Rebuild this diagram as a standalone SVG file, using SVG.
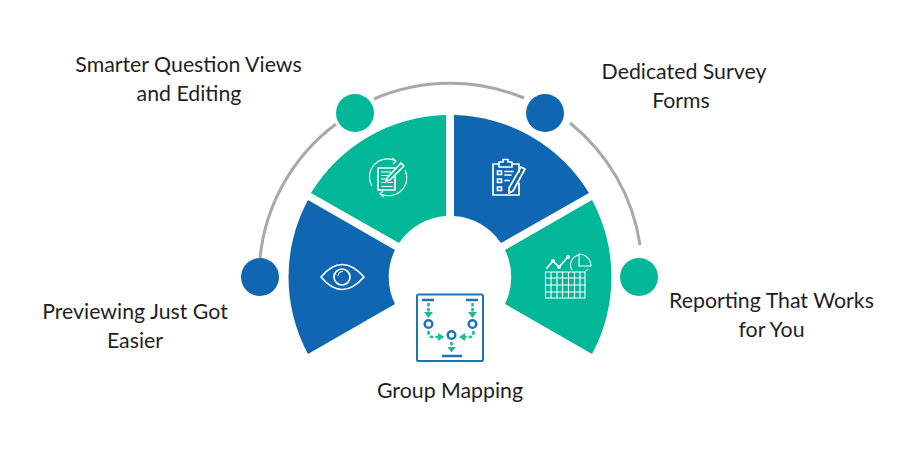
<svg xmlns="http://www.w3.org/2000/svg" width="900" height="450" viewBox="0 0 900 450">
<style>
.b{fill:#0f67b1}.g{fill:#00b898}
.t{font-family:"Lato","Open Sans",sans-serif;font-size:21.300px;fill:#1f1f1f;text-anchor:middle}
.a{fill:none;stroke:#a9a9a9;stroke-width:3}
.w{fill:none;stroke:#fff;stroke-width:1.7;stroke-linejoin:round;stroke-linecap:round}
.w1{fill:none;stroke:#fff;stroke-width:1.1}
.mb{fill:none;stroke:#1f74b8;stroke-width:2.5}
.mg{fill:none;stroke:#1dbb98;stroke-width:2.6}
.mf{fill:#1dbb98}
</style>
<rect width="900" height="450" fill="#fff"/>
<g id="connectors">
<path class="a" d="M260 258A191 191 0 0 1 336 124"/>
<path class="a" d="M374 99A193 193 0 0 1 524 98"/>
<path class="a" d="M570 123A192 192 0 0 1 640 245"/>
</g>
<g id="node-preview">
<path class="b" d="M308 200L395 250A61 61 0 0 0 395 304L308 354A162 162 0 0 1 308 200Z"/>
<circle class="b" cx="260" cy="277" r="19"/>
<path class="w" d="M321 277Q342 252 364 277Q342 302 321 277Z"/>
<circle class="w" cx="342" cy="277" r="8"/>
<path class="w1" d="M338 276A4.500 4.500 0 0 1 343 271.500"/>
<text class="t"><tspan x="135" y="319">Previewing Just Got</tspan><tspan x="135" y="348">Easier</tspan></text>
</g>
<g id="node-question">
<path class="g" d="M311 193L399 243A61 61 0 0 1 446 216L446 115A162 162 0 0 0 311 193Z"/>
<circle class="g" cx="355" cy="113" r="19"/>
<path class="w" d="M378 168H395V190H378Z"/>
<path class="w1" d="M381 172H391M381 175.500H389M381 179H386M381 182.500H393M381 186.500H393"/>
<path class="g" d="M386 180L401 162L405 165L391 181L386 183Z"/>
<path class="w" d="M387 178L401 163L404 166L390 180L386 181Z"/>
<path class="w1" d="M396 161A18 18 0 0 0 372 186M405 170A18 18 0 0 1 381 194"/>
<path class="w1" d="M392 158L396 161L393 164M383 191L380 194L384 197"/>
<text class="t"><tspan x="188.500" y="72">Smarter Question Views</tspan><tspan x="189" y="101">and Editing</tspan></text>
</g>
<g id="node-survey">
<path class="b" d="M454 115L454 216A61 61 0 0 1 501 243L589 193A162 162 0 0 0 454 115Z"/>
<circle class="b" cx="545" cy="113" r="19"/>
<path class="w" d="M498 164H493V195H519V183M513 164H519V172"/>
<path class="w" d="M499 167V162H503V159.500H508V162H512V167H499Z"/>
<path class="w" d="M509 188L521 167L525 169L513 191L509 193Z"/>
<rect class="w" x="497.500" y="171" width="4" height="3.500"/><rect class="w" x="497.500" y="179" width="4" height="3.500"/><rect class="w" x="497.500" y="187" width="4" height="3.500"/>
<path class="w" d="M505 171.500H513M505 175H511M505 180.500H509"/>
<text class="t"><tspan x="684" y="79">Dedicated Survey</tspan><tspan x="681" y="108">Forms</tspan></text>
</g>
<g id="node-reporting">
<path class="g" d="M592 200L505 250A61 61 0 0 1 505 304L592 354A162 162 0 0 0 592 200Z"/>
<circle class="g" cx="639" cy="277" r="19"/>
<path class="w1" d="M545.500 272H585V298H545.500ZM545.500 278H585M545.500 285H585M545.500 292H585M551 272V298M557 272V298M562.500 272V298M568.500 272V298M574.500 272V298M580 272V298"/>
<path class="w" d="M547 268L553 261L559 267L568 257"/>
<circle class="w1" cx="553" cy="261" r="1.500"/><circle class="w1" cx="559" cy="267" r="1.500"/><circle class="w1" cx="568" cy="257" r="1.500"/>
<path class="w1" d="M579 255A10 10 0 0 0 572 270"/>
<path class="w1" d="M579 254A12 12 0 0 1 591 266L579 266Z"/>
<path class="w1" d="M588 269A10 10 0 0 1 584 272"/>
<text class="t"><tspan x="771.500" y="308">Reporting That Works</tspan><tspan x="771.500" y="337">for You</tspan></text>
</g>
<g id="node-mapping">
<rect x="417" y="294.500" width="66" height="66.500" rx="1.500" fill="none" stroke="#1f74b8" stroke-width="2"/>
<path class="mb" d="M422 300H434M466 300H478M442 356H462"/>
<circle class="mb" cx="428.500" cy="324" r="3.800"/><circle class="mb" cx="472.500" cy="324" r="3.800"/><circle class="mb" cx="451.500" cy="335" r="3.800"/>
<path class="mg" d="M428.500 303V312M472.500 303V312M451.500 342V348" stroke-dasharray="3.500 1.500"/>
<path class="mg" d="M428.500 331Q428.500 337 432 337H439M473.500 331Q473.500 337 470 337H464" stroke-dasharray="3.500 2"/>
<path class="mf" d="M424 312H433L428.500 318ZM468 312H477L472.500 318ZM447.500 347H456L451.500 352.500ZM438 333V341L444.500 337ZM465 333V341L459 337Z"/>
<text class="t" x="450" y="398">Group Mapping</text>
</g>
</svg>
